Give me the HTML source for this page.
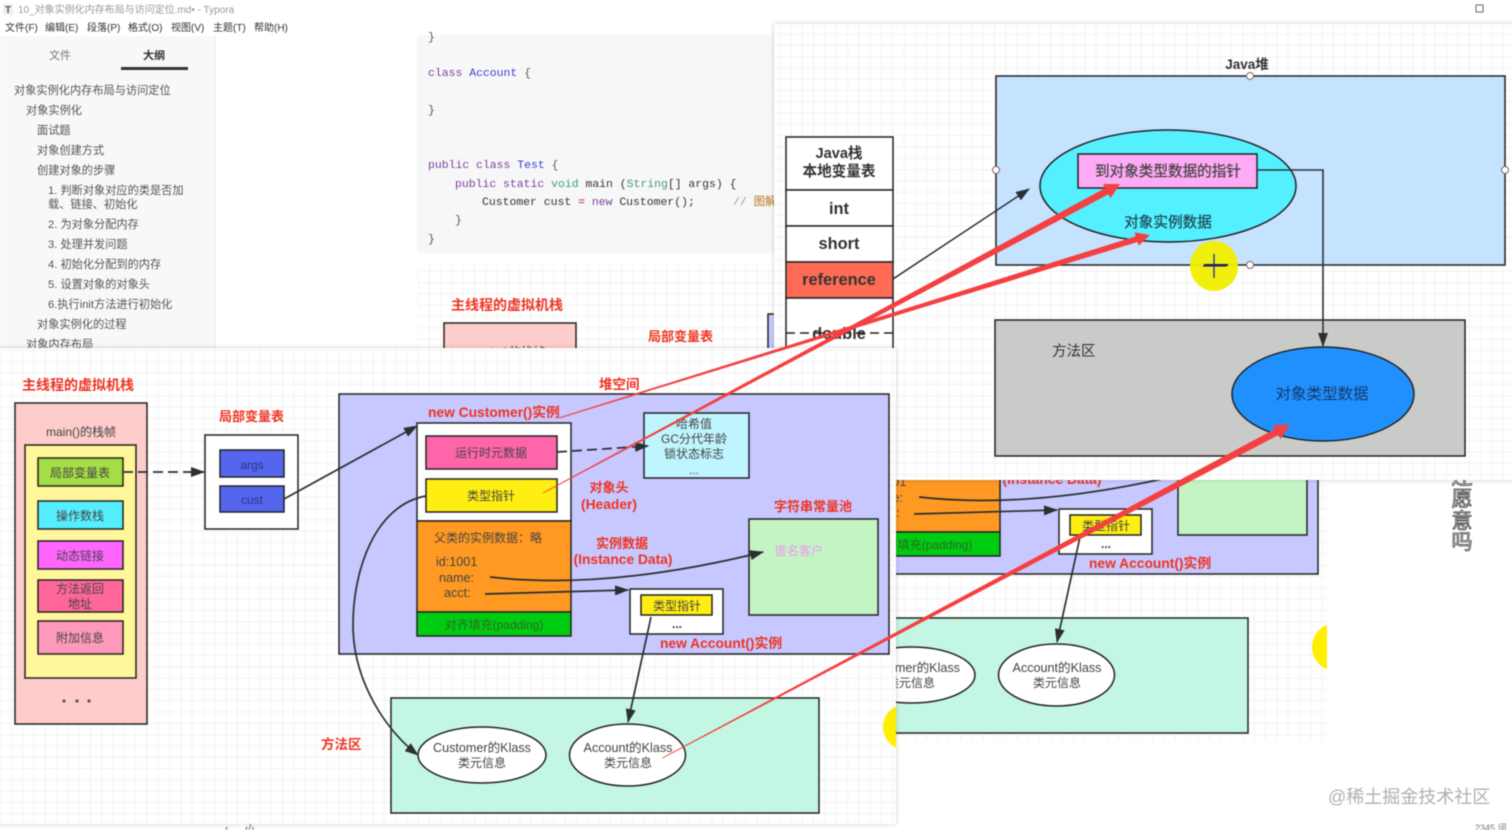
<!DOCTYPE html>
<html><head><meta charset="utf-8"><style>
html,body{margin:0;padding:0;background:#fff;width:1512px;height:830px;overflow:hidden}
svg{display:block;position:absolute;left:0;top:0;filter:blur(.4px)}
text{font-family:"Liberation Sans","Noto Sans CJK SC",sans-serif}
.m{font-family:"Liberation Mono","Noto Sans CJK SC",monospace;font-size:11.45px;white-space:pre}
.o{font-size:11.2px;fill:#555}
.mn{font-size:10px;fill:#333}
.r{fill:#ee3322;font-weight:bold;font-size:13px}
.rl{font-size:13.8px}
.c{text-anchor:middle}
.d{fill:#444;font-size:12px}
.dl{font-size:12.6px}
.b{stroke:#222;stroke-width:1.5}
.j{fill:#333;font-weight:bold;font-size:14.6px;text-anchor:middle}
.jl{font-size:16.4px}
.k{stroke-width:.25;font-size:14.6px;text-anchor:middle}
</style></head><body>
<svg width="1512" height="830" viewBox="0 0 1512 830" xmlns="http://www.w3.org/2000/svg">
<defs>
<pattern id="g" width="56.5" height="56.5" patternUnits="userSpaceOnUse">
<path d="M11.3 0V56.5M22.6 0V56.5M33.9 0V56.5M45.2 0V56.5M0 11.3H56.5M0 22.6H56.5M0 33.9H56.5M0 45.2H56.5" stroke="#f3f3f3" stroke-width="1" fill="none"/>
<path d="M0 0V56.5M0 0H56.5" stroke="#e6e8e6" stroke-width="1" fill="none"/>
</pattern>
<marker id="a" markerUnits="userSpaceOnUse" markerWidth="15" markerHeight="10" refX="13" refY="5" orient="auto"><path d="M0 0L14 5L0 10Z" fill="#2a2f2f"/></marker>
<filter id="s" x="-3%" y="-3%" width="106%" height="106%"><feDropShadow dx="0" dy="0" stdDeviation="2" flood-color="#000" flood-opacity=".22"/></filter>
<clipPath id="cb"><rect x="418" y="265" width="909" height="475"/></clipPath>
<clipPath id="cl"><rect x="0" y="348" width="896" height="476"/></clipPath>

<g id="diag">
<text class="r" x="22" y="390" style="font-size:14px">主线程的虚拟机栈</text>
<rect x="15" y="403" width="132" height="321" fill="#ffcccc" class="b"/>
<text class="d c" x="81" y="436">main()的栈帧</text>
<rect x="25" y="445" width="111" height="233" fill="#fff799" class="b"/>
<rect x="38" y="458" width="85" height="28" fill="#a4dd44" class="b"/>
<text class="d c" x="80" y="477">局部变量表</text>
<rect x="38" y="501" width="85" height="28" fill="#55eeff" class="b"/>
<text class="d c" x="80" y="520">操作数栈</text>
<rect x="38" y="541" width="85" height="28" fill="#ff66ff" class="b"/>
<text class="d c" x="80" y="560">动态链接</text>
<rect x="38" y="580" width="85" height="32" fill="#ff6699" class="b"/>
<text class="d c" x="80" y="593">方法返回</text>
<text class="d c" x="80" y="608">地址</text>
<rect x="38" y="621" width="85" height="33" fill="#ff99bb" class="b"/>
<text class="d c" x="80" y="642">附加信息</text>
<circle cx="64" cy="701" r="1.6" fill="#555"/><circle cx="77" cy="701" r="1.6" fill="#555"/><circle cx="89" cy="701" r="1.6" fill="#555"/>

<text class="r" x="219" y="421">局部变量表</text>
<rect x="205" y="435" width="93" height="94" fill="#fff" class="b"/>
<rect x="220" y="450" width="64" height="27" fill="#5566ee" class="b"/>
<text class="c" x="252" y="469" font-size="12" fill="#2a3388">args</text>
<rect x="220" y="486" width="64" height="26" fill="#5566ee" class="b"/>
<text class="c" x="252" y="504" font-size="12" fill="#2a3388">cust</text>

<text class="r" x="599" y="389" style="font-size:13.5px">堆空间</text>
<rect x="339" y="394" width="550" height="260" fill="#c6c8ff" class="b"/>
<text class="r rl" x="428" y="417">new Customer()实例</text>
<rect x="417" y="423" width="154" height="98" fill="#fff" class="b"/>
<rect x="426" y="436" width="131" height="33" fill="#ff66aa" class="b"/>
<text class="d c" x="491" y="457">运行时元数据</text>
<rect x="426" y="479" width="131" height="33" fill="#ffee11" class="b"/>
<text class="d c" x="491" y="500">类型指针</text>
<rect x="417" y="521" width="154" height="91" fill="#ff9922" class="b"/>
<text class="d c" x="488" y="542">父类的实例数据：略</text>
<text class="d dl" x="436" y="566">id:1001</text>
<text class="d dl" x="439" y="582">name:</text>
<text class="d dl" x="444" y="597">acct:</text>
<rect x="417" y="612" width="154" height="24" fill="#00cc11" class="b"/>
<text class="c" x="494" y="629" font-size="12" fill="#2a6a2a">对齐填充(padding)</text>

<rect x="644" y="413" width="105" height="65" fill="#bff5ff" class="b"/>
<text class="d c" x="694" y="428">哈希值</text>
<text class="d c" x="694" y="443">GC分代年龄</text>
<text class="d c" x="694" y="458">锁状态标志</text>
<text class="d c" x="694" y="474">...</text>

<text class="r c" x="609" y="492">对象头</text>
<text class="r rl c" x="609" y="509">(Header)</text>
<text class="r c" x="622" y="548">实例数据</text>
<text class="r rl c" x="623" y="564">(Instance Data)</text>
<text class="r c" x="813" y="511">字符串常量池</text>
<rect x="749" y="519" width="129" height="96" fill="#c4f4c4" class="b"/>
<text class="c" x="799" y="555" font-size="12" fill="#ee99ee">匿名客户</text>

<rect x="630" y="589" width="93" height="45" fill="#fff" class="b"/>
<rect x="641" y="595" width="71" height="20" fill="#ffee11" class="b"/>
<text class="d c" x="677" y="610">类型指针</text>
<text class="c" x="677" y="628" font-size="12" font-weight="bold" fill="#333">...</text>
<text class="r rl" x="660" y="648">new Account()实例</text>

<text class="r" x="321" y="749" style="font-size:13.5px">方法区</text>
<rect x="391" y="698" width="428" height="115" fill="#c4f6e4" class="b"/>
<ellipse cx="482" cy="755" rx="64" ry="28" fill="#fff" class="b"/>
<text class="d dl c" x="482" y="752">Customer的Klass</text>
<text class="d c" x="482" y="767">类元信息</text>
<ellipse cx="627.5" cy="755" rx="58" ry="31" fill="#fff" class="b"/>
<text class="d dl c" x="628" y="752">Account的Klass</text>
<text class="d c" x="628" y="767">类元信息</text>

<g fill="none" stroke="#2a2f2f" stroke-width="1.7">
<path d="M123 472H204" stroke-dasharray="10 5" marker-end="url(#a)"/>
<path d="M284 499L417 426" marker-end="url(#a)"/>
<path d="M426 496C375 505 353 570 353 625C353 680 385 730 418 755" marker-end="url(#a)"/>
<path d="M557 452L648 446" stroke-dasharray="10 5" marker-end="url(#a)"/>
<path d="M490 577C560 585 650 580 763 552" marker-end="url(#a)"/>
<path d="M485 594L628 590" marker-end="url(#a)"/>
<path d="M651 617L628 722" marker-end="url(#a)"/>
</g>
</g>
</defs>

<!-- Typora -->
<rect x="0" y="0" width="1512" height="830" fill="#fff"/>
<rect x="3" y="4" width="10" height="11" fill="#eee"/>
<text x="5" y="13" font-size="10" font-weight="bold" fill="#555">T</text>
<text x="18" y="13" font-size="10" fill="#999">10_对象实例化内存布局与访问定位.md• - Typora</text>
<rect x="1476" y="5" width="7" height="7" fill="none" stroke="#666"/>
<text class="mn" x="5" y="31">文件(F)</text><text class="mn" x="45" y="31">编辑(E)</text><text class="mn" x="87" y="31">段落(P)</text><text class="mn" x="128" y="31">格式(O)</text><text class="mn" x="171" y="31">视图(V)</text><text class="mn" x="213" y="31">主题(T)</text><text class="mn" x="254" y="31">帮助(H)</text>
<rect x="0" y="36" width="216" height="314" fill="#f8f8f8"/>
<rect x="215" y="36" width="1" height="314" fill="#eee"/>
<text x="49" y="59" font-size="11" fill="#777">文件</text>
<text x="143" y="59" font-size="11" font-weight="bold" fill="#333">大纲</text>
<rect x="121" y="67" width="67" height="3" fill="#333"/>
<text class="o" x="14" y="94">对象实例化内存布局与访问定位</text>
<text class="o" x="26" y="114">对象实例化</text>
<text class="o" x="37" y="134">面试题</text>
<text class="o" x="37" y="154">对象创建方式</text>
<text class="o" x="37" y="174">创建对象的步骤</text>
<text class="o" x="48" y="194">1. 判断对象对应的类是否加</text>
<text class="o" x="48" y="208">载、链接、初始化</text>
<text class="o" x="48" y="228">2. 为对象分配内存</text>
<text class="o" x="48" y="248">3. 处理并发问题</text>
<text class="o" x="48" y="268">4. 初始化分配到的内存</text>
<text class="o" x="48" y="288">5. 设置对象的对象头</text>
<text class="o" x="48" y="308">6.执行init方法进行初始化</text>
<text class="o" x="37" y="328">对象实例化的过程</text>
<text class="o" x="26" y="348">对象内存布局</text>

<!-- code -->
<rect x="417" y="35" width="360" height="218" rx="3" fill="#f7f7f8"/>
<text class="m" x="428" y="40" fill="#555">}</text>
<text class="m" x="428" y="76"><tspan fill="#7a3e9d">class</tspan> <tspan fill="#3a3fcc">Account</tspan> <tspan fill="#555">{</tspan></text>
<text class="m" x="428" y="113" fill="#555">}</text>
<text class="m" x="428" y="168"><tspan fill="#7a3e9d">public class</tspan> <tspan fill="#3a3fcc">Test</tspan> <tspan fill="#555">{</tspan></text>
<text class="m" x="455" y="187"><tspan fill="#7a3e9d">public static</tspan> <tspan fill="#3a9d7d">void</tspan> <tspan fill="#333">main (</tspan><tspan fill="#3a9d7d">String</tspan><tspan fill="#333">[] args) {</tspan></text>
<text class="m" x="482" y="205"><tspan fill="#333">Customer cust </tspan><tspan fill="#a05">=</tspan> <tspan fill="#7a3e9d">new</tspan> <tspan fill="#333">Customer();</tspan></text>
<text class="m" x="733" y="205"><tspan fill="#999">// </tspan><tspan fill="#b8761a">图解</tspan></text>
<text class="m" x="455" y="223" fill="#555">}</text>
<text class="m" x="428" y="242" fill="#555">}</text>

<!-- back diagram -->
<g clip-path="url(#cb)">
<rect x="418" y="265" width="909" height="475" fill="#fff"/>
<rect x="418" y="265" width="909" height="475" fill="url(#g)"/>
<use href="#diag" transform="translate(429,-80)"/>
<circle cx="1336" cy="647" r="24" fill="#ffee00"/>
</g>

<g font-size="21" fill="#e4e4e4" stroke="#444" stroke-width=".8" text-anchor="middle">
<text x="1462" y="484">还</text><text x="1462" y="506">愿</text><text x="1462" y="528">意</text><text x="1462" y="549">吗</text></g>

<text x="1328" y="803" font-size="18" fill="#b0b0b0">@稀土掘金技术社区</text>
<text x="1475" y="831" font-size="9" fill="#777">2345 词</text>
<text x="225" y="831" font-size="10" fill="#555">‹</text>
<text x="245" y="831" font-size="10" fill="#555">‹/›</text>

<!-- right window -->
<rect x="774" y="24" width="760" height="456" fill="#fff" filter="url(#s)"/>
<rect x="774" y="24" width="738" height="456" fill="url(#g)"/>
<text x="1247" y="69" text-anchor="middle" font-size="13.5" font-weight="bold" fill="#333">Java堆</text>
<rect x="996" y="76" width="509" height="189" fill="#c5e2ff" class="b"/>
<ellipse cx="1168" cy="186" rx="128" ry="56" fill="#55f0ff" class="b"/>
<rect x="1078" y="154" width="179" height="34" fill="#ffaaf5" class="b"/>
<text class="k" x="1168" y="176" fill="#444" stroke="#444">到对象类型数据的指针</text>
<text class="k" x="1168" y="227" fill="#1c4a55" stroke="#1c4a55">对象实例数据</text>
<g fill="#fff" stroke="#866" stroke-width="1"><circle cx="1250" cy="76" r="3.5"/><circle cx="996" cy="170" r="3.5"/><circle cx="1505" cy="170" r="3.5"/><circle cx="1250" cy="265" r="3.5"/></g>
<ellipse cx="1214" cy="266" rx="24" ry="25" fill="#f2ee00" opacity=".95"/>
<path d="M1204 265H1228" stroke="#222" stroke-width="2"/>
<path d="M1214 254V278M1203 266H1226" stroke="#2222aa" stroke-width="1.3"/>

<rect x="995" y="320" width="470" height="136" fill="#c9cbc9" class="b"/>
<text x="1052" y="356" font-size="14.5" fill="#333">方法区</text>
<ellipse cx="1323" cy="394" rx="91" ry="47" fill="#2090ff" class="b"/>
<text class="c" x="1322" y="399" font-size="15.5" fill="#173a66">对象类型数据</text>
<path d="M1257 170H1323V346" fill="none" stroke="#333" stroke-width="1.6" marker-end="url(#a)"/>

<rect x="786" y="137" width="107" height="53" fill="#fff" class="b"/>
<text class="j" x="839" y="158">Java栈</text><text class="j" x="839" y="176">本地变量表</text>
<rect x="786" y="190" width="107" height="36" fill="#fff" class="b"/><text class="j jl" x="839" y="214">int</text>
<rect x="786" y="226" width="107" height="36" fill="#fff" class="b"/><text class="j jl" x="839" y="249">short</text>
<rect x="786" y="262" width="107" height="36" fill="#ff6b55" class="b"/><text class="j jl" x="839" y="285">reference</text>
<rect x="786" y="298" width="107" height="80" fill="#fff" class="b"/>
<text class="j jl" x="839" y="339">double</text>
<path d="M786 333H893" stroke="#222" stroke-width="1.6" stroke-dasharray="9 5"/>
<path d="M893 279L1029 189" stroke="#222" stroke-width="1.4" fill="none" marker-end="url(#a)"/>

<!-- left window -->
<rect x="-10" y="348" width="906" height="476" fill="#fff" filter="url(#s)"/>
<rect x="0" y="348" width="896" height="476" fill="url(#g)"/>
<g clip-path="url(#cl)">
<use href="#diag"/>
<circle cx="906" cy="727" r="23" fill="#ffee00"/>
</g>

<!-- red callouts -->
<g fill="#f44040">
<polygon points="559.15,418.5 558.85,417.5 1135.7,236.2 1134.5,232.4 1150,235 1138.7,245.8 1137.5,242"/>
<polygon points="543.2,493.4 542.8,492.6 1105.2,188 1103,184 1120,184 1110.6,198.2 1108.5,194.2"/>
<polygon points="662.7,758.4 662.3,757.6 1275.1,428.9 1273,424.9 1290,425 1280.5,439.1 1278.3,435.1"/>
</g>
</svg>
</body></html>
